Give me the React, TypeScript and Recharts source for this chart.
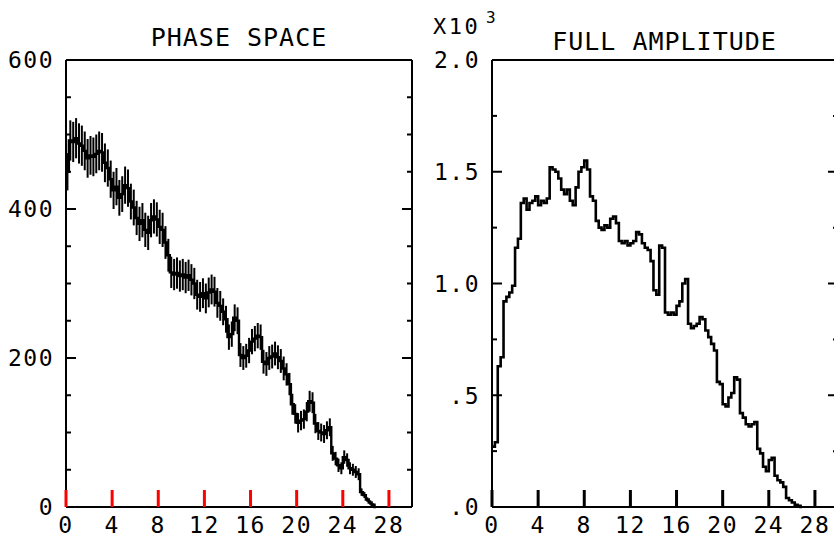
import React from 'react';
import { ComposedChart, Line, XAxis, YAxis, ErrorBar, ReferenceLine } from 'recharts';

const FONT = "'DejaVu Sans Mono', monospace";
const BIN = 0.25;
const X_MAX = 30;

const xTicks = [0, 4, 8, 12, 16, 20, 24, 28];
const phaseTicks = [0, 50, 100, 150, 200, 250, 300, 350, 400, 450, 500, 550, 600];
const fullTicks = [0, 0.25, 0.5, 0.75, 1, 1.25, 1.5, 1.75, 2];

const phaseCounts = [
  450, 492, 490, 495, 488, 485, 478, 468,
  472, 470, 474, 478, 476, 462, 455, 440,
  425, 430, 415, 420, 432, 428, 410, 402,
  388, 380, 385, 372, 368, 385, 390, 386,
  376, 372, 355, 338, 315, 312, 314, 310,
  312, 308, 311, 305, 300, 285, 282, 287,
  280, 288, 292, 289, 274, 270, 262, 252,
  228, 232, 254, 250, 204, 200, 203, 210,
  222, 226, 230, 228, 195, 192, 200, 202,
  206, 201, 196, 186, 178, 165, 138, 125,
  113, 116, 118, 128, 142, 140, 112, 102,
  100, 98, 103, 107, 72, 65, 56, 52,
  67, 63, 52, 50, 47, 44, 20, 16,
  10, 6, 3, 0,
];

const phaseErrors = [
  25, 27, 27, 27, 27, 27, 26, 26,
  26, 26, 26, 26, 26, 26, 25, 25,
  25, 25, 24, 24, 25, 25, 24, 24,
  23, 23, 23, 23, 23, 23, 23, 23,
  23, 23, 22, 22, 21, 21, 21, 21,
  21, 21, 21, 21, 21, 20, 20, 20,
  20, 20, 20, 20, 20, 20, 18, 18,
  17, 17, 18, 18, 16, 16, 16, 17,
  17, 17, 17, 17, 16, 16, 16, 16,
  16, 16, 16, 16, 15, 15, 14, 13,
  13, 13, 13, 13, 14, 14, 13, 12,
  12, 12, 12, 12, 10, 9, 9, 8,
  9, 9, 8, 8, 8, 8, 5, 4,
  3, 3, 2, 0,
];

const fullCounts = [
  0.27, 0.29, 0.63, 0.67, 0.92, 0.94, 0.96, 0.99,
  1.16, 1.2, 1.36, 1.38, 1.33, 1.36, 1.37, 1.39,
  1.35, 1.37, 1.36, 1.38, 1.52, 1.51, 1.5, 1.47,
  1.42, 1.4, 1.42, 1.37, 1.35, 1.43, 1.5, 1.52,
  1.55, 1.51, 1.39, 1.37, 1.28, 1.25, 1.24, 1.26,
  1.25, 1.29, 1.3, 1.27, 1.19, 1.18, 1.19, 1.17,
  1.18, 1.19, 1.23, 1.22, 1.18, 1.16, 1.15, 1.1,
  0.97, 0.95, 1.17, 1.16, 0.87, 0.86, 0.87, 0.86,
  0.9, 0.92, 1.0, 1.02, 0.82, 0.8, 0.81, 0.82,
  0.85, 0.84, 0.79, 0.76, 0.73, 0.7, 0.56, 0.55,
  0.46, 0.45, 0.49, 0.51, 0.58, 0.57, 0.42, 0.4,
  0.37, 0.36, 0.37, 0.38, 0.26, 0.24, 0.18, 0.16,
  0.21, 0.22, 0.14, 0.12, 0.11, 0.09, 0.04, 0.03,
  0.02, 0.01, 0.005, 0,
];

const fullErrors = [
  0.012, 0.012, 0.018, 0.018, 0.022, 0.022, 0.022, 0.023,
  0.025, 0.025, 0.027, 0.027, 0.027, 0.027, 0.027, 0.027,
  0.027, 0.027, 0.027, 0.027, 0.028, 0.028, 0.028, 0.028,
  0.028, 0.027, 0.028, 0.027, 0.027, 0.028, 0.028, 0.028,
  0.028, 0.028, 0.027, 0.027, 0.026, 0.025, 0.025, 0.025,
  0.025, 0.026, 0.026, 0.025, 0.025, 0.025, 0.025, 0.025,
  0.025, 0.025, 0.025, 0.025, 0.025, 0.025, 0.025, 0.024,
  0.023, 0.023, 0.025, 0.025, 0.021, 0.021, 0.021, 0.021,
  0.022, 0.022, 0.023, 0.023, 0.021, 0.02, 0.021, 0.021,
  0.021, 0.021, 0.02, 0.02, 0.02, 0.019, 0.017, 0.017,
  0.016, 0.016, 0.016, 0.017, 0.018, 0.018, 0.015, 0.015,
  0.014, 0.014, 0.014, 0.014, 0.012, 0.012, 0.01, 0.01,
  0.011, 0.011, 0.009, 0.008, 0.008, 0.007, 0.005, 0.004,
  0.003, 0.002, 0.001, 0,
];

const toBins = (counts: number[], errors: number[]) => {
  const rows = counts.map((v, i) => ({ x: (i + 0.5) * BIN, v, e: errors[i] }));
  return [{ x: 0, v: counts[0], e: 0 }, ...rows];
};

const phaseData = toBins(phaseCounts, phaseErrors);
const fullData = toBins(fullCounts, fullErrors);

const labelStyle = { fontFamily: FONT, fontSize: 23, fill: '#000', letterSpacing: 1.5 };
const frame = { stroke: '#000', strokeWidth: 2 };

const makeBottomTick = (color: string) => (props: any) => {
  const { x, y, payload } = props;
  return (
    <g>
      <line x1={x} x2={x} y1={y} y2={y - 17} stroke={color} strokeWidth={3} />
      <text x={x} y={y + 26} textAnchor="middle" {...labelStyle}>{payload.value}</text>
    </g>
  );
};
const RedTick = makeBottomTick('red');
const BlackTick = makeBottomTick('#000');

const YMarks = (p: any, len: number) => {
  const left = Math.min(p.x1, p.x2);
  const right = Math.max(p.x1, p.x2);
  return (
    <g>
      <line x1={left} x2={left + len} y1={p.y1} y2={p.y1} stroke="#000" strokeWidth={2} />
      <line x1={right} x2={right - len} y1={p.y1} y2={p.y1} stroke="#000" strokeWidth={2} />
    </g>
  );
};

type PanelProps = {
  data: any[];
  yMax: number;
  yTicks: number[];
  isMajor: (v: number) => boolean;
  fmt: (v: number) => string;
  lineWidth: number;
  red: boolean;
  errors: boolean;
};

const Panel = ({ data, yMax, yTicks, isMajor, fmt, lineWidth, red, errors }: PanelProps) => {
  const LeftLabel = (props: any) => {
    const { x, y, payload } = props;
    const v = payload.value;
    if (!isMajor(v)) return <g />;
    return (
      <text x={x - 12} y={y} dy="0.36em" textAnchor="end" {...labelStyle}>{fmt(v)}</text>
    );
  };
  const Tick = red ? RedTick : BlackTick;

  return (
    <ComposedChart width={420} height={538} data={data} margin={{ top: 59, right: 8, bottom: 0, left: 0 }}>
      <XAxis xAxisId="b" dataKey="x" type="number" domain={[0, X_MAX]} ticks={xTicks} height={31}
        tickSize={0} tickMargin={0} tickLine={false} axisLine={frame} tick={<Tick />} interval={0} />
      <XAxis xAxisId="t" orientation="top" dataKey="x" type="number" domain={[0, X_MAX]} ticks={xTicks}
        height={1} tickLine={false} axisLine={frame} tick={false} />
      <YAxis yAxisId="l" type="number" domain={[0, yMax]} ticks={yTicks} width={66} tickSize={0}
        tickMargin={0} tickLine={false} axisLine={frame} tick={<LeftLabel />} interval={0} />
      <ReferenceLine xAxisId="b" yAxisId="l" x={X_MAX} stroke="#000" strokeWidth={2} />
      {yTicks.filter((t) => t > 0 && t < yMax).map((t) => (
        <ReferenceLine key={`y${t}`} xAxisId="b" yAxisId="l" y={t}
          shape={(p: any) => YMarks(p, isMajor(t) ? 10 : 5)} />
      ))}
      <Line xAxisId="t" yAxisId="l" dataKey="v" stroke="none" dot={false} activeDot={false} isAnimationActive={false} />
      <Line xAxisId="b" yAxisId="l" type="step" dataKey="v" stroke="#000" strokeWidth={lineWidth}
        dot={false} activeDot={false} isAnimationActive={false}>
        {errors && <ErrorBar dataKey="e" direction="y" width={0} stroke="#000" strokeWidth={2} isAnimationActive={false} />}
      </Line>
    </ComposedChart>
  );
};

const titleStyle: React.CSSProperties = {
  position: 'absolute',
  fontFamily: FONT,
  fontSize: 25,
  lineHeight: '25px',
  letterSpacing: 1,
  textAlign: 'center',
  whiteSpace: 'nowrap',
  color: '#000',
};

export default function App() {
  return (
    <div style={{ position: 'absolute', left: 0, top: 0, width: 834, height: 538, overflow: 'hidden', background: '#fff' }}>
      <div style={{ position: 'absolute', left: 0, top: 0 }}>
        <Panel data={phaseData} yMax={600} yTicks={phaseTicks} isMajor={(v) => v % 200 === 0}
          fmt={(v) => String(v)} lineWidth={2.4} red={true} errors={true} />
      </div>
      <div style={{ position: 'absolute', left: 426, top: 0 }}>
        <Panel data={fullData} yMax={2} yTicks={fullTicks}
          isMajor={(v) => Math.abs(v * 2 - Math.round(v * 2)) < 1e-9}
          fmt={(v) => (v < 1 ? v.toFixed(1).slice(1) : v.toFixed(1))} lineWidth={2.6} red={false} errors={false} />
      </div>
      <div style={{ ...titleStyle, left: 66, width: 346, top: 25 }}>PHASE SPACE</div>
      <div style={{ ...titleStyle, left: 492, width: 345, top: 29 }}>FULL AMPLITUDE</div>
      <div style={{ ...titleStyle, left: 433, top: 16, fontSize: 22, lineHeight: '22px', letterSpacing: 2.5, textAlign: 'left' }}>X10</div>
      <div style={{ ...titleStyle, left: 486, top: 10, fontSize: 16, lineHeight: '16px', letterSpacing: 0, textAlign: 'left' }}>3</div>
    </div>
  );
}
